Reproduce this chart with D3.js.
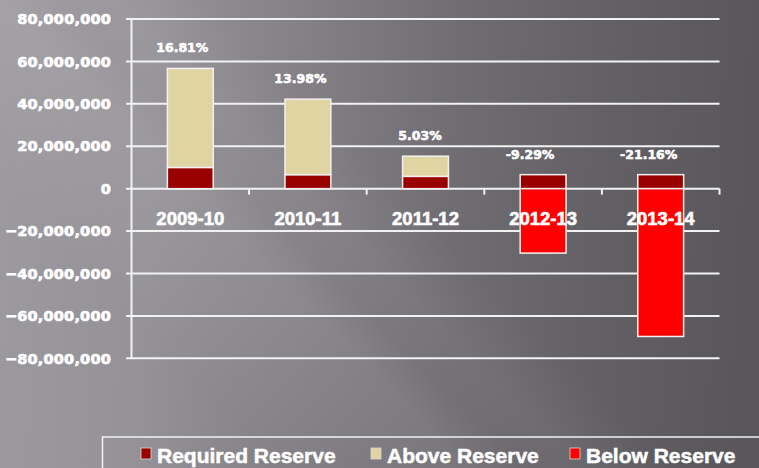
<!DOCTYPE html>
<html><head><meta charset="utf-8">
<script src="https://cdn.jsdelivr.net/npm/d3@7"></script>
<style>
html,body{margin:0;padding:0;overflow:hidden;background:#6e6c71;}
svg{display:block;}
</style></head>
<body>
<svg id="chart" width="759" height="468"></svg>
<script>
const categories = ["2009-10","2010-11","2011-12","2012-13","2013-14"];
const requiredReserve = [10000000, 6600000, 5800000, 6600000, 6600000];
const aboveReserve    = [46700000, 35600000, 9500000, 0, 0];
const belowReserve    = [0, 0, 0, -30400000, -69700000];
const pctLabels = ["16.81%","13.98%","5.03%","-9.29%","-21.16%"];
const yTicks = [80000000,60000000,40000000,20000000,0,-20000000,-40000000,-60000000,-80000000];
const legendNames = ["Required Reserve","Above Reserve","Below Reserve"];
const colors = {req:"#990000", above:"#e0d4a2", below:"#ff0000"};

const svg = d3.select("#chart");
const W = 759, H = 468;

// background gradient
const defs = svg.append("defs");
const g1 = defs.append("linearGradient").attr("id","bg").attr("gradientUnits","userSpaceOnUse")
  .attr("x1",0).attr("y1",160).attr("x2",759).attr("y2",200);
[[0,"#9c999f"],[0.2,"#949197"],[0.4,"#827f85"],[0.6,"#6f6d72"],[0.8,"#626065"],[1,"#58565b"]]
  .forEach(([o,c])=>g1.append("stop").attr("offset",o).attr("stop-color",c));
svg.append("rect").attr("width",W).attr("height",H).attr("fill","url(#bg)");
const g2 = defs.append("linearGradient").attr("id","streak").attr("gradientUnits","userSpaceOnUse")
  .attr("x1",0).attr("y1",468).attr("x2",468).attr("y2",0);
[[0,0],[0.3,0],[0.42,0.05],[0.5,0.08],[0.56,0.03],[0.62,0.05],[0.72,0],[1,0]]
  .forEach(([o,a])=>g2.append("stop").attr("offset",o).attr("stop-color","#ffffff").attr("stop-opacity",a));
svg.append("rect").attr("width",W).attr("height",H).attr("fill","url(#streak)");

const pLeft = 131.5, pRight = 719.5, pTop = 19, pBottom = 358.3;
const x = d3.scaleBand().domain(categories).range([pLeft,pRight]).paddingInner(0.61).paddingOuter(0.305);
const xb = d3.scaleBand().domain(categories).range([pLeft,pRight]);
const y = d3.scaleLinear().domain([-80000000,80000000]).range([pBottom,pTop]);

const gridCol = "#f2f2f2";
svg.append("g").selectAll("line").data(yTicks).join("line")
  .attr("x1",126).attr("x2",pRight).attr("y1",d=>y(d)).attr("y2",d=>y(d))
  .attr("stroke",gridCol).attr("stroke-width",2);
svg.append("line").attr("x1",pLeft).attr("x2",pLeft).attr("y1",pTop).attr("y2",pBottom)
  .attr("stroke",gridCol).attr("stroke-width",2);
const bounds = categories.map(c=>xb(c)).concat([pRight]);
svg.append("g").selectAll("line").data(bounds.slice(1)).join("line")
  .attr("x1",d=>d).attr("x2",d=>d).attr("y1",y(0)).attr("y2",y(0)+6)
  .attr("stroke",gridCol).attr("stroke-width",2);

// y labels
svg.append("g").selectAll("text").data(yTicks).join("text")
  .attr("x",111).attr("y",d=>y(d)).attr("dy","0.36em").attr("text-anchor","end")
  .attr("font-family","DejaVu Sans").attr("font-weight","bold").attr("font-size",14.5)
  .attr("letter-spacing",0.2)
  .attr("fill","#ffffff").attr("stroke","#ffffff").attr("stroke-width",0.7)
  .text(d=>d3.format(",")(d));

// bars
const bars = svg.append("g");
categories.forEach((c,i)=>{
  const bx = x(c), bw = x.bandwidth();
  bars.append("rect").attr("x",bx).attr("width",bw)
    .attr("y",y(requiredReserve[i])).attr("height",y(0)-y(requiredReserve[i]))
    .attr("fill",colors.req).attr("stroke","#f4f0f0").attr("stroke-width",1.5);
  if(aboveReserve[i]>0){
    const t = requiredReserve[i]+aboveReserve[i];
    bars.append("rect").attr("x",bx).attr("width",bw)
      .attr("y",y(t)).attr("height",y(requiredReserve[i])-y(t))
      .attr("fill",colors.above).attr("stroke","#f4f0f0").attr("stroke-width",1.5);
  }
  if(belowReserve[i]<0){
    bars.append("rect").attr("x",bx).attr("width",bw)
      .attr("y",y(0)).attr("height",y(belowReserve[i])-y(0))
      .attr("fill",colors.below).attr("stroke","#f4f0f0").attr("stroke-width",1.5);
  }
});

// percentage labels
const pctOffsets = [-8,-7.5,-5.5,-13,-12];
svg.append("g").selectAll("text").data(categories).join("text")
  .attr("x",(c,i)=>x(c)+x.bandwidth()/2+pctOffsets[i])
  .attr("y",(c,i)=>y(requiredReserve[i]+aboveReserve[i])-16)
  .attr("text-anchor","middle")
  .attr("font-family","DejaVu Sans").attr("font-weight","bold").attr("font-size",12.5)
  .attr("fill","#ffffff").attr("stroke","#ffffff").attr("stroke-width",0.6)
  .text((c,i)=>pctLabels[i]);

// category labels
svg.append("g").selectAll("text").data(categories).join("text")
  .attr("x",c=>xb(c)+xb.bandwidth()/2).attr("y",y(0)+36)
  .attr("text-anchor","middle")
  .attr("font-family","Liberation Sans").attr("font-weight","bold").attr("font-size",18.5)
  .attr("fill","#ffffff").attr("stroke","#ffffff").attr("stroke-width",0.6)
  .text(c=>c);

// legend
svg.append("rect").attr("x",102.5).attr("y",437).attr("width",700).attr("height",60)
  .attr("fill","none").attr("stroke",gridCol).attr("stroke-width",1.5);
const legX = [141, 371, 570];
const legCols = [colors.req, colors.above, colors.below];
const lg = svg.append("g");
legendNames.forEach((n,i)=>{
  lg.append("rect").attr("x",legX[i]).attr("y",448).attr("width",10).attr("height",11)
    .attr("fill",legCols[i]).attr("stroke","#d8d8d8").attr("stroke-width",0.8);
  lg.append("text").attr("x",legX[i]+16).attr("y",462.5)
    .attr("font-family","Liberation Sans").attr("font-weight","bold").attr("font-size",21)
    .attr("fill","#ffffff").attr("stroke","#ffffff").attr("stroke-width",0.5).text(n);
});
</script>
</body></html>
